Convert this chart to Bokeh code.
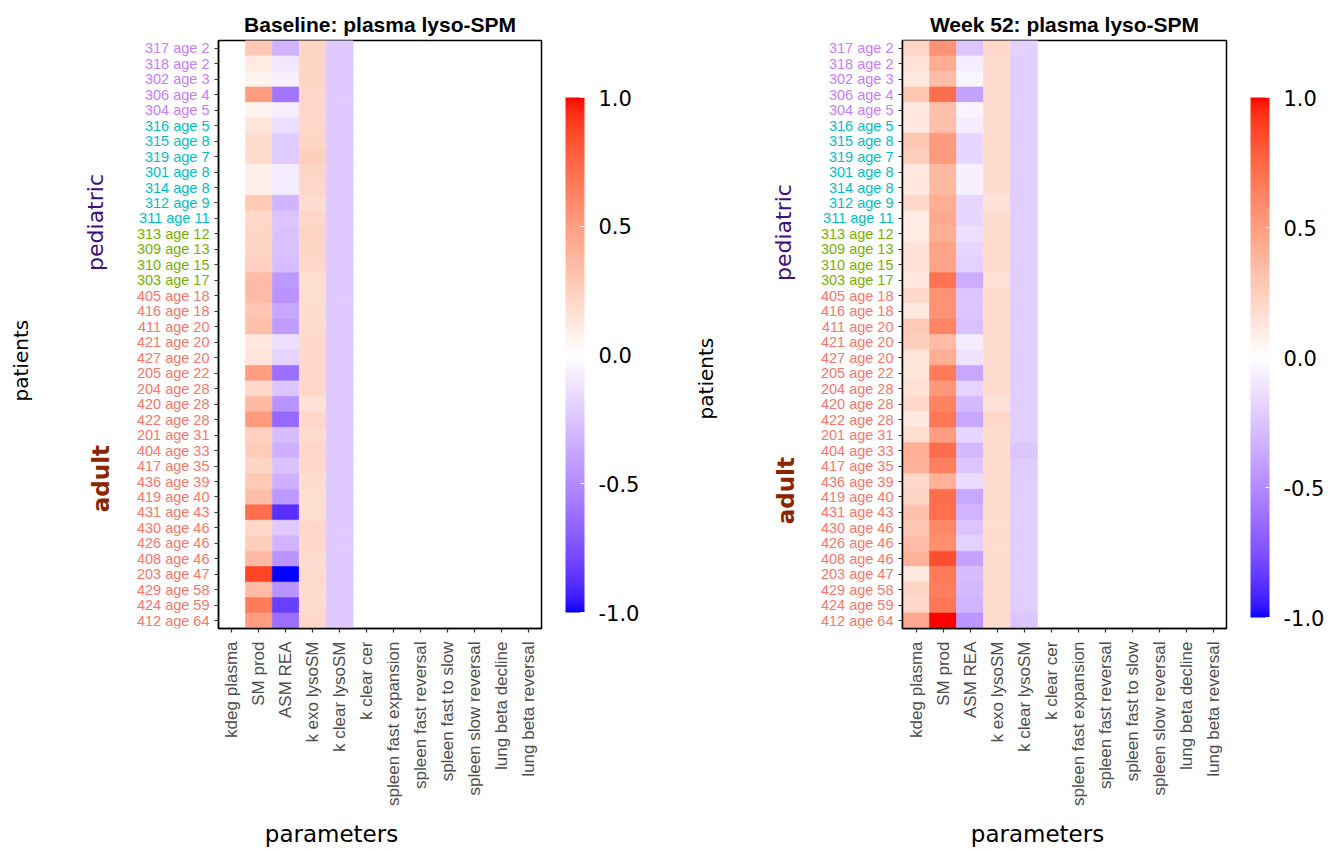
import numpy as np
from bokeh.plotting import figure
from bokeh.models import (ColumnDataSource, FactorRange, LinearColorMapper, ColorBar,
                          FixedTicker, PrintfTickFormatter, Range1d)
from bokeh.layouts import row, column
from bokeh.embed import file_html
from bokeh.resources import INLINE
from bokeh.transform import transform
from bokeh.core.properties import value

# ---------------- data ----------------
patients = ["317 age 2", "318 age 2", "302 age 3", "306 age 4", "304 age 5",
            "316 age 5", "315 age 8", "319 age 7", "301 age 8", "314 age 8",
            "312 age 9", "311 age 11", "313 age 12", "309 age 13", "310 age 15",
            "303 age 17", "405 age 18", "416 age 18", "411 age 20", "421 age 20",
            "427 age 20", "205 age 22", "204 age 28", "420 age 28", "422 age 28",
            "201 age 31", "404 age 33", "417 age 35", "436 age 39", "419 age 40",
            "431 age 43", "430 age 46", "426 age 46", "408 age 46", "203 age 47",
            "429 age 58", "424 age 59", "412 age 64"]
age_group = ["0-5"] * 5 + ["5-11"] * 7 + ["12-17"] * 4 + ["18+"] * 22

parameters = ["kdeg plasma", "SM prod", "ASM REA", "k exo lysoSM", "k clear lysoSM",
              "k clear cer", "spleen fast expansion", "spleen fast reversal",
              "spleen fast to slow", "spleen slow reversal", "lung beta decline",
              "lung beta reversal"]

# Baseline (kdeg plasma and the last seven parameters are empty)
base_sm_prod = [0.28, 0.10, 0.06, 0.50, 0.06, 0.14, 0.18, 0.18, 0.08, 0.08,
                0.28, 0.20, 0.22, 0.22, 0.24, 0.35, 0.35, 0.30, 0.33, 0.12,
                0.14, 0.50, 0.20, 0.36, 0.52, 0.24, 0.27, 0.22, 0.28, 0.34,
                0.72, 0.20, 0.25, 0.36, 0.88, 0.35, 0.66, 0.50]
base_asm_rea = [-0.33, -0.10, -0.06, -0.60, -0.07, -0.14, -0.22, -0.22, -0.09, -0.09,
                -0.32, -0.25, -0.26, -0.27, -0.28, -0.44, -0.46, -0.38, -0.42, -0.14,
                -0.18, -0.62, -0.24, -0.46, -0.65, -0.28, -0.34, -0.26, -0.34, -0.44,
                -0.88, -0.23, -0.32, -0.46, -1.00, -0.46, -0.82, -0.62]
base_k_exo = [0.22, 0.22, 0.22, 0.21, 0.21, 0.21, 0.22, 0.25, 0.22, 0.21,
              0.18, 0.21, 0.23, 0.22, 0.21, 0.17, 0.17, 0.18, 0.19, 0.20,
              0.20, 0.20, 0.20, 0.16, 0.21, 0.19, 0.21, 0.20, 0.18, 0.17,
              0.17, 0.21, 0.20, 0.18, 0.19, 0.19, 0.19, 0.20]
base_k_clear = [-0.23] * 38

# Week 52
w52_kdeg = [0.22, 0.15, 0.12, 0.30, 0.12, 0.12, 0.30, 0.25, 0.12, 0.12,
            0.20, 0.10, 0.10, 0.15, 0.15, 0.12, 0.20, 0.12, 0.28, 0.25,
            0.14, 0.14, 0.16, 0.20, 0.12, 0.17, 0.42, 0.40, 0.20, 0.22,
            0.32, 0.30, 0.35, 0.40, 0.12, 0.22, 0.20, 0.45]
w52_sm_prod = [0.55, 0.42, 0.34, 0.72, 0.32, 0.34, 0.52, 0.52, 0.36, 0.36,
               0.42, 0.44, 0.42, 0.47, 0.47, 0.70, 0.56, 0.56, 0.62, 0.35,
               0.42, 0.66, 0.53, 0.63, 0.68, 0.50, 0.72, 0.64, 0.40, 0.72,
               0.72, 0.60, 0.57, 0.85, 0.67, 0.65, 0.68, 1.00]
w52_asm_rea = [-0.24, -0.08, -0.04, -0.40, -0.05, -0.08, -0.17, -0.17, -0.06, -0.06,
               -0.17, -0.17, -0.14, -0.17, -0.20, -0.35, -0.25, -0.25, -0.27, -0.08,
               -0.12, -0.38, -0.18, -0.30, -0.38, -0.17, -0.30, -0.24, -0.15, -0.38,
               -0.32, -0.25, -0.20, -0.40, -0.28, -0.30, -0.32, -0.45]
w52_k_exo = [0.20, 0.18, 0.18, 0.18, 0.18, 0.18, 0.18, 0.19, 0.18, 0.18,
             0.15, 0.18, 0.19, 0.19, 0.18, 0.16, 0.18, 0.18, 0.18, 0.18,
             0.18, 0.18, 0.18, 0.15, 0.20, 0.19, 0.18, 0.18, 0.18, 0.18,
             0.18, 0.18, 0.18, 0.18, 0.18, 0.18, 0.18, 0.19]
w52_k_clear = [-0.20, -0.21, -0.21, -0.21, -0.21, -0.21, -0.21, -0.21, -0.21, -0.21,
               -0.21, -0.21, -0.21, -0.21, -0.21, -0.21, -0.21, -0.21, -0.21, -0.21,
               -0.21, -0.21, -0.21, -0.21, -0.21, -0.21, -0.24, -0.22, -0.21, -0.21,
               -0.21, -0.21, -0.21, -0.21, -0.21, -0.21, -0.21, -0.24]

colorbar_ticks = [-1.0, -0.5, 0.0, 0.5, 1.0]

# ---------------- palette (Lab interpolation blue-white-red) ----------------
M = np.array([[0.4124564, 0.3575761, 0.1804375],
              [0.2126729, 0.7151522, 0.0721750],
              [0.0193339, 0.1191920, 0.9503041]])
MI = np.linalg.inv(M)
WN = np.array([0.95047, 1.0, 1.08883])


def to_lab(rgb):
    c = np.array(rgb) / 255.0
    c = np.where(c <= 0.04045, c / 12.92, ((c + 0.055) / 1.055) ** 2.4)
    xyz = M @ c / WN
    f = np.where(xyz > 0.008856, np.cbrt(xyz), 7.787 * xyz + 16 / 116)
    return np.array([116 * f[1] - 16, 500 * (f[0] - f[1]), 200 * (f[1] - f[2])])


def from_lab(lab):
    L, a, b = lab
    fy = (L + 16) / 116
    fx = fy + a / 500
    fz = fy - b / 200
    f = np.array([fx, fy, fz])
    xyz = np.where(f ** 3 > 0.008856, f ** 3, (f - 16 / 116) / 7.787) * WN
    c = np.clip(MI @ xyz, 0, 1)
    c = np.where(c <= 0.0031308, 12.92 * c, 1.055 * c ** (1 / 2.4) - 0.055)
    r, g, bb = (np.clip(c, 0, 1) * 255).round().astype(int)
    return "#%02x%02x%02x" % (r, g, bb)


lab_low, lab_mid, lab_high = to_lab((0, 0, 255)), to_lab((255, 255, 255)), to_lab((255, 0, 0))
palette = []
for v in np.linspace(-1, 1, 255):
    if v < 0:
        palette.append(from_lab(lab_mid + (lab_low - lab_mid) * (-v)))
    else:
        palette.append(from_lab(lab_mid + (lab_high - lab_mid) * v))

group_colors = {"0-5": "#C77CFF", "5-11": "#00BFC4", "12-17": "#7CAE00", "18+": "#F8766D"}

FONT = "Liberation Sans"
FONT2 = "DejaVu Sans"
H = 812          # height of the heat-map rows
TOP = 40
FRAME_H = 588
BOTTOM = H - TOP - FRAME_H


def blank_fig(width, height, x_end, y_range, top=0, bottom=0):
    f = figure(width=width, height=height, output_backend="svg", toolbar_location=None,
               x_range=Range1d(0, x_end), y_range=y_range,
               x_axis_location=None, y_axis_location=None,
               min_border_left=0, min_border_right=0,
               min_border_top=top, min_border_bottom=bottom)
    f.xgrid.visible = False
    f.ygrid.visible = False
    f.outline_line_color = None
    return f


def label_panel(width, y_range, pos):
    """Coloured patient names plus the 'patients' / 'pediatric' / 'adult' texts."""
    f = blank_fig(width, H, width, y_range, TOP, BOTTOM)
    n = len(patients)
    src = ColumnDataSource(dict(
        x=[width - 1] * n,
        y=[n - i - 0.5 for i in range(n)],
        text=patients,
        color=[group_colors[g] for g in age_group]))
    f.text(x="x", y="y", text="text", source=src, text_color="color",
           text_font=value(FONT), text_font_size="14.5px",
           text_align="right", text_baseline="middle")
    (px, py), (dx, dy), (ax_, ay) = pos
    f.text(x=[px], y=[py], text=["patients"], angle=np.pi / 2,
           text_font=value(FONT2), text_font_size="20px", text_color="black",
           text_align="center", text_baseline="middle")
    f.text(x=[dx], y=[dy], text=["pediatric"], angle=np.pi / 2,
           text_font=value(FONT2), text_font_size="22px", text_color="#40107A",
           text_align="center", text_baseline="middle")
    f.text(x=[ax_], y=[ay], text=["adult"], angle=np.pi / 2,
           text_font=value(FONT2), text_font_size="23px", text_color="#8B2500",
           text_font_style="bold", text_align="center", text_baseline="middle")
    return f


def heat_panel(title, columns, width, mb_right, y_range, cb_bottom, cb_height):
    xs, ys, vals = [], [], []
    for pname, values in columns.items():
        for pat, v in zip(patients, values):
            xs.append(pname)
            ys.append(pat)
            vals.append(v)
    src = ColumnDataSource(dict(param=xs, patient=ys, value=vals))
    mapper = LinearColorMapper(palette=palette, low=-1, high=1)

    p = figure(width=width, height=H, output_backend="svg", toolbar_location=None,
               x_range=FactorRange(factors=parameters), y_range=y_range,
               min_border_left=8, min_border_right=mb_right,
               min_border_top=TOP, min_border_bottom=BOTTOM, title=title)
    p.rect(x="param", y="patient", width=1, height=1, source=src,
           fill_color=transform("value", mapper), line_color=transform("value", mapper),
           line_width=0.6)

    p.title.align = "center"
    p.title.text_font = FONT
    p.title.text_font_size = "21px"
    p.title.text_font_style = "bold"
    p.title.text_color = "black"

    p.xgrid.visible = False
    p.ygrid.visible = False
    p.outline_line_color = "black"
    p.outline_line_width = 1.5
    p.background_fill_color = "white"

    for ax in (p.xaxis[0], p.yaxis[0]):
        ax.axis_line_color = "black"
        ax.axis_line_width = 1.5
        ax.major_tick_out = 4
        ax.major_tick_in = 0
        ax.major_tick_line_color = "#333333"
        ax.major_tick_line_width = 1.2
        ax.minor_tick_line_color = None
    p.xaxis.major_label_orientation = np.pi / 2
    p.xaxis.major_label_text_font = FONT
    p.xaxis.major_label_text_font_size = "17px"
    p.xaxis.major_label_text_color = "#4D4D4D"
    p.xaxis.major_label_standoff = 9
    # patient names are drawn (coloured) in the neighbouring label panel
    p.yaxis.major_label_text_font_size = "0px"
    p.yaxis.major_label_text_color = None
    p.yaxis.major_label_standoff = 0

    cb = ColorBar(color_mapper=mapper, ticker=FixedTicker(ticks=colorbar_ticks),
                  formatter=PrintfTickFormatter(format="%.1f"),
                  width=19, height=cb_height, location=(24, cb_bottom), padding=0, margin=0,
                  label_standoff=14, major_label_text_font=FONT2,
                  major_label_text_font_size="21px", major_label_text_color="black",
                  major_tick_line_color="white", major_tick_in=4, major_tick_out=0,
                  bar_line_color=None, border_line_color=None,
                  background_fill_color=None)
    p.add_layout(cb, "right")
    return p


yr1 = FactorRange(factors=list(reversed(patients)))
yr2 = FactorRange(factors=list(reversed(patients)))

lab1 = label_panel(210, yr1, [(20, 17.31), (95, 26.24), (100, 9.69)])
heat1 = heat_panel("Baseline: plasma lyso-SPM",
                   {"SM prod": base_sm_prod, "ASM REA": base_asm_rea,
                    "k exo lysoSM": base_k_exo, "k clear lysoSM": base_k_clear},
                   470, 139, yr1, 16, 515)
lab2 = label_panel(214, yr2, [(25, 16.15), (103, 25.59), (105, 8.91)])
heat2 = heat_panel("Week 52: plasma lyso-SPM",
                   {"kdeg plasma": w52_kdeg, "SM prod": w52_sm_prod, "ASM REA": w52_asm_rea,
                    "k exo lysoSM": w52_k_exo, "k clear lysoSM": w52_k_clear},
                   436, 104, yr2, 11, 520)

# x-axis titles strip
strip = blank_fig(1330, 35, 1330, Range1d(0, 35))
strip.text(x=[331, 1037], y=[14, 14], text=["parameters", "parameters"],
           text_font=value(FONT2), text_font_size="23px", text_color="black",
           text_align="center", text_baseline="middle")

layout = column(row(lab1, heat1, lab2, heat2), strip)
open("out.html", "w").write(file_html(layout, INLINE))
